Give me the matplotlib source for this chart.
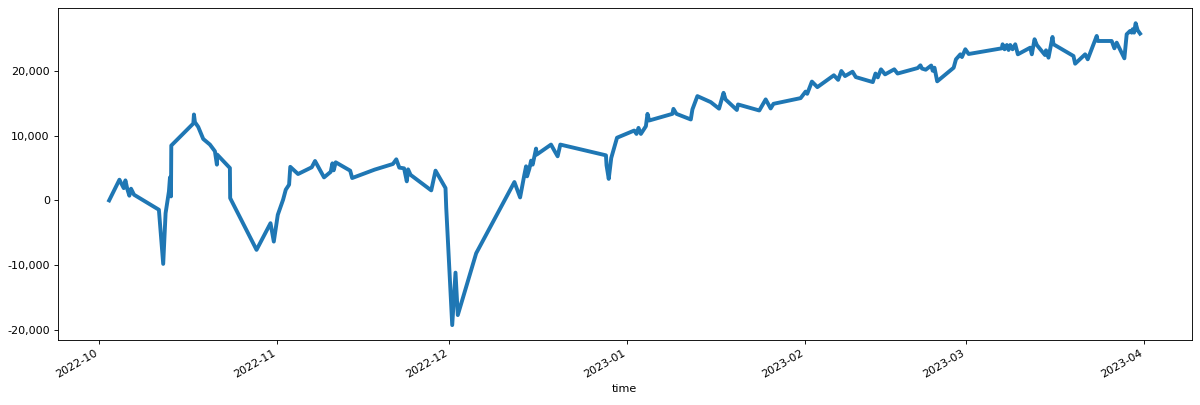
import pandas as pd
import matplotlib
matplotlib.use('Agg')
import matplotlib.pyplot as plt
from matplotlib.ticker import FuncFormatter

# 时间点
times = [
    '2022-10-02 18:00', '2022-10-04 13:00', '2022-10-05 07:00', '2022-10-05 14:00', '2022-10-05 22:00',
    '2022-10-06 06:30', '2022-10-06 13:30', '2022-10-07 02:00', '2022-10-11 10:00', '2022-10-12 04:00',
    '2022-10-12 14:00', '2022-10-13 04:00', '2022-10-13 08:20', '2022-10-13 12:30', '2022-10-13 13:50',
    '2022-10-17 10:00', '2022-10-17 12:30', '2022-10-17 16:40', '2022-10-18 06:30', '2022-10-19 03:20',
    '2022-10-20 07:20', '2022-10-21 04:10', '2022-10-21 12:30', '2022-10-21 13:50', '2022-10-23 18:50',
    '2022-10-23 20:00', '2022-10-28 10:15', '2022-10-30 20:40', '2022-10-31 10:25', '2022-11-01 03:05',
    '2022-11-02 01:15', '2022-11-02 12:30', '2022-11-03 02:20', '2022-11-03 07:20', '2022-11-04 15:50',
    '2022-11-07 01:00', '2022-11-07 14:50', '2022-11-09 04:25', '2022-11-10 08:20', '2022-11-10 15:25',
    '2022-11-10 20:50', '2022-11-11 05:15', '2022-11-13 17:45', '2022-11-14 02:05', '2022-11-18 00:00',
    '2022-11-21 04:25', '2022-11-21 18:35', '2022-11-22 07:05', '2022-11-23 03:05', '2022-11-23 14:25',
    '2022-11-23 19:50', '2022-11-24 06:15', '2022-11-27 20:40', '2022-11-28 14:35', '2022-11-30 08:20',
    '2022-11-30 11:15', '2022-12-01 12:20', '2022-12-02 02:05', '2022-12-02 11:40', '2022-12-05 16:30',
    '2022-12-12 08:20', '2022-12-13 08:10', '2022-12-14 02:05', '2022-12-14 09:10', '2022-12-14 13:20',
    '2022-12-14 23:00', '2022-12-15 06:05', '2022-12-15 12:45', '2022-12-16 02:55', '2022-12-16 05:25',
    '2022-12-18 17:30', '2022-12-19 07:20', '2022-12-19 21:05', '2022-12-20 08:20', '2022-12-28 07:05',
    '2022-12-28 09:35', '2022-12-28 18:45', '2022-12-29 05:15', '2022-12-30 05:25', '2023-01-02 05:15',
    '2023-01-02 14:50', '2023-01-02 23:10', '2023-01-03 09:10', '2023-01-04 06:05', '2023-01-04 12:45',
    '2023-01-04 19:50', '2023-01-08 21:05', '2023-01-09 01:15', '2023-01-09 13:45', '2023-01-12 01:50',
    '2023-01-12 08:35', '2023-01-13 05:25', '2023-01-15 13:20', '2023-01-17 00:00', '2023-01-17 18:45',
    '2023-01-18 03:05', '2023-01-20 02:20', '2023-01-20 07:20', '2023-01-24 00:15', '2023-01-25 02:55',
    '2023-01-25 23:45', '2023-01-26 11:30', '2023-01-31 05:00', '2023-02-01 01:50', '2023-02-01 08:35',
    '2023-02-02 04:10', '2023-02-03 03:05', '2023-02-06 00:00', '2023-02-06 17:55', '2023-02-07 07:20',
    '2023-02-07 22:45', '2023-02-09 06:05', '2023-02-09 19:50', '2023-02-12 18:45', '2023-02-13 06:05',
    '2023-02-13 15:40', '2023-02-14 05:00', '2023-02-14 22:05', '2023-02-16 12:30', '2023-02-17 02:20',
    '2023-02-20 14:35', '2023-02-21 01:50', '2023-02-21 08:35', '2023-02-22 00:00', '2023-02-22 23:00',
    '2023-02-23 05:15', '2023-02-23 12:45', '2023-02-24 00:00', '2023-02-26 20:50', '2023-02-27 06:30',
    '2023-02-28 00:50', '2023-02-28 07:30', '2023-02-28 21:40', '2023-03-01 11:30', '2023-03-07 06:30',
    '2023-03-07 09:25', '2023-03-07 17:45', '2023-03-08 03:20', '2023-03-08 10:25', '2023-03-08 17:30',
    '2023-03-09 03:05', '2023-03-09 14:25', '2023-03-10 01:15', '2023-03-12 05:00', '2023-03-12 11:40',
    '2023-03-12 23:00', '2023-03-13 08:35', '2023-03-14 18:45', '2023-03-14 23:00', '2023-03-15 09:25',
    '2023-03-16 02:05', '2023-03-16 06:15', '2023-03-19 17:45', '2023-03-20 00:50', '2023-03-21 18:35',
    '2023-03-22 05:25', '2023-03-23 19:00', '2023-03-23 23:10', '2023-03-26 09:35', '2023-03-26 20:50',
    '2023-03-27 06:30', '2023-03-28 14:35', '2023-03-29 00:15', '2023-03-29 14:25', '2023-03-29 21:05',
    '2023-03-30 01:15', '2023-03-30 07:05', '2023-03-30 13:45', '2023-03-30 22:05', '2023-03-31 08:10',
]

# 累计数值
values = [
    0, 3200, 1900, 3100, 1750,
    730, 1810, 880, -1440, -9810,
    -1970, 1400, 3560, 620, 8480,
    11890, 13280, 12090, 11360, 9500,
    8630, 7600, 5530, 7080, 5010,
    360, -7640, -3520, -6360, -2220,
    110, 1660, 2430, 5190, 4080,
    5120, 6090, 3560, 4420, 5730,
    4650, 5890, 4600, 3460, 4760,
    5630, 6350, 5070, 4960, 2950,
    4800, 3950, 1550, 4600, 1910,
    -1080, -19270, -11160, -17720, -8170,
    2840, 460, 3980, 5270, 3720,
    4910, 6150, 5530, 8010, 7080,
    8630, 7700, 6820, 8630, 6970,
    5420, 3330, 6560, 9690, 10800,
    10280, 11210, 10280, 11470, 13380,
    12350, 13380, 14150, 13380, 12510,
    14060, 16120, 15190, 14180, 16630,
    15610, 13980, 14830, 13900, 15610,
    14210, 14930, 15810, 16820, 16480,
    18370, 17510, 19340, 18630, 20000,
    19220, 19890, 19060, 18290, 19610,
    19020, 20260, 19480, 20260, 19610,
    20460, 20880, 20380, 20200, 20850,
    20040, 20510, 18400, 20510, 21810,
    22580, 22160, 23360, 22630, 23510,
    24130, 23360, 24020, 23250, 24020,
    23360, 24130, 22580, 23610, 22580,
    24910, 24020, 22470, 23200, 22060,
    25260, 24130, 22320, 21130, 22580,
    21810, 25420, 24640, 24640, 23510,
    24380, 21960, 25680, 26190, 25930,
    26460, 25930, 27390, 26300, 25780,
]

df = pd.DataFrame({'time': pd.to_datetime(times), 'value': values})

# 原图大约是 80 dpi 输出
fig, ax = plt.subplots(figsize=(15, 5.0625), dpi=80)
ax.plot(df['time'], df['value'], color='#1f77b4', linewidth=3.5)

# 千分位格式
ax.yaxis.set_major_formatter(FuncFormatter(lambda v, pos: f'{v:,.0f}'))
ax.set_xlabel('time')
fig.autofmt_xdate()

plt.subplots_adjust(left=0.048, right=0.993, top=0.980, bottom=0.160)
plt.savefig('out.png', dpi=80)
plt.close()
